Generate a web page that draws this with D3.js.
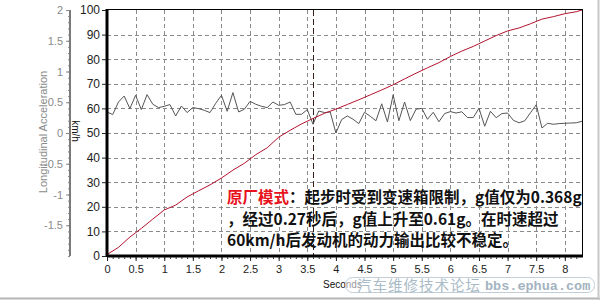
<!DOCTYPE html>
<html>
<head>
<meta charset="utf-8">
<script src="https://cdn.jsdelivr.net/npm/d3@7"></script>
<style>
  html, body { margin: 0; padding: 0; background: #fff; }
  svg { display: block; }
</style>
</head>
<body>
<svg id="chart" width="600" height="300"></svg>
<script>
// acceleration (g), one sample every 0.1 s from 0 to 8.3 s
const accelValues = [
  0.342, 0.300, 0.504, 0.601, 0.397, 0.613, 0.381, 0.624, 0.467, 0.413,
  0.434, 0.462, 0.277, 0.439, 0.332, 0.413, 0.397, 0.369, 0.332, 0.483,
  0.613, 0.353, 0.657, 0.342, 0.386, 0.515, 0.467, 0.434, 0.413, 0.504,
  0.450, 0.462, 0.504, 0.304, 0.304, 0.381, 0.142, 0.358, 0.332, 0.342,
  0.001, 0.218, 0.277, 0.223, 0.153, 0.337, 0.272, 0.199, 0.475, 0.179,
  0.621, 0.199, 0.504, 0.202, 0.386, 0.402, 0.223, 0.337, 0.183, 0.316,
  0.348, 0.325, 0.345, 0.251, 0.251, 0.402, 0.110, 0.353, 0.248, 0.316,
  0.325, 0.207, 0.166, 0.199, 0.329, 0.459, 0.082, 0.158, 0.142, 0.153,
  0.158, 0.162, 0.166, 0.191
];
const accelTimes = d3.range(accelValues.length).map((i) => i / 10);

// speed (km/h)
const speedTimes = [
  0, 0.2, 0.4, 0.6, 0.8, 1.0, 1.2, 1.4, 1.6, 1.8, 2.0, 2.2, 2.4, 2.6, 2.8,
  3.0, 3.2, 3.4, 3.6, 3.8, 4.0, 4.2, 4.4, 4.6, 4.8, 5.0, 5.2, 5.4, 5.6, 5.8,
  6.0, 6.2, 6.4, 6.6, 6.8, 7.0, 7.2, 7.4, 7.6, 7.8, 8.0, 8.2, 8.3
];
const speedValues = [
  0.6, 3.5, 7.7, 11.2, 15.0, 18.7, 20.7, 24.0, 26.5, 28.9, 31.7, 34.9, 37.7,
  41.2, 44.0, 48.3, 51.1, 53.7, 55.9, 58.0, 59.7, 61.6, 63.5, 65.5, 67.5,
  69.6, 72.0, 74.3, 76.5, 78.6, 81.1, 83.3, 85.2, 87.4, 89.6, 91.5, 92.7,
  94.4, 96.3, 97.3, 98.5, 99.3, 100
];

const timeTicks = [0, 0.5, 1, 1.5, 2, 2.5, 3, 3.5, 4, 4.5, 5, 5.5, 6, 6.5, 7, 7.5, 8];
const speedTicks = [0, 10, 20, 30, 40, 50, 60, 70, 80, 90, 100];
const accelTicks = [-1.5, -1, -0.5, 0, 0.5, 1, 1.5, 2];
const markerTime = 3.6;

const noteLines = [
  [{ t: "原厂模式", red: true }, { t: "：起步时受到变速箱限制，g值仅为0.368g" }],
  [{ t: "，经过0.27秒后，g值上升至0.61g。在时速超过" }],
  [{ t: "60km/h后发动机的动力输出比较不稳定。" }],
];

const svg = d3.select("#chart");
const pLeft = 107, pRight = 582, pTop = 10, pBottom = 256;

const x = d3.scaleLinear().domain([0, 8.3]).range([pLeft, pRight]);
const ySpeed = d3.scaleLinear().domain([0, 100]).range([pBottom, pTop]);
const yAccel = d3.scaleLinear().domain([-2, 2]).range([pBottom, pTop]);

const sans = "'Liberation Sans', Arial, sans-serif";

// grid
const grid = svg.append("g").attr("stroke", "#8a8a8a").attr("stroke-dasharray", "4,3").attr("shape-rendering", "crispEdges");
grid.selectAll("line.v")
  .data(timeTicks.filter((d) => d > 0))
  .join("line")
  .attr("x1", (d) => Math.round(x(d)) + 0.5).attr("x2", (d) => Math.round(x(d)) + 0.5)
  .attr("y1", pTop).attr("y2", pBottom);
grid.selectAll("line.h")
  .data(speedTicks.filter((d) => d > 0 && d < 100))
  .join("line")
  .attr("x1", pLeft).attr("x2", pRight)
  .attr("y1", (d) => Math.round(ySpeed(d)) + 0.5).attr("y2", (d) => Math.round(ySpeed(d)) + 0.5);

// marker line
svg.append("line")
  .attr("x1", Math.round(x(markerTime)) + 0.5).attr("x2", Math.round(x(markerTime)) + 0.5)
  .attr("y1", pTop).attr("y2", pBottom)
  .attr("stroke", "#3a1f1f").attr("stroke-dasharray", "6,3");

// annotation text
const note = svg.append("text")
  .attr("font-family", "'Noto Sans CJK SC', sans-serif")
  .attr("font-weight", "bold")
  .attr("font-size", 15.5);
noteLines.forEach((parts, i) => {
  const line = note.append("tspan").attr("x", 227).attr("y", 203 + i * 21.5);
  parts.forEach((p, j) => {
    const s = j === 0 ? line : note.append("tspan");
    s.text(p.t).attr("fill", p.red ? "#e8121c" : "#111");
  });
});

// series
svg.append("path")
  .datum(accelValues.map((v, i) => [accelTimes[i], v]))
  .attr("fill", "none").attr("stroke", "#555").attr("stroke-width", 1)
  .attr("d", d3.line().x((d) => x(d[0])).y((d) => yAccel(d[1])));

svg.append("path")
  .datum(speedValues.map((v, i) => [speedTimes[i], v]))
  .attr("fill", "none").attr("stroke", "#b3122f").attr("stroke-width", 1)
  .attr("d", d3.line().x((d) => x(d[0])).y((d) => ySpeed(d[1])));

// frame
svg.append("rect")
  .attr("x", pLeft + 0.5).attr("y", pTop - 0.5).attr("width", pRight - pLeft).attr("height", pBottom - pTop)
  .attr("fill", "none").attr("stroke", "#000");
svg.append("line").attr("x1", pLeft).attr("x2", pLeft).attr("y1", pTop - 1).attr("y2", pBottom + 1)
  .attr("stroke", "#000").attr("stroke-width", 3);
svg.append("line").attr("x1", pLeft).attr("x2", pRight + 1).attr("y1", pBottom).attr("y2", pBottom)
  .attr("stroke", "#000").attr("stroke-width", 3);

function styleAxis(g, color, size) {
  g.select(".domain").remove();
  g.selectAll("line").attr("stroke", color);
  g.selectAll("text").attr("fill", color).attr("font-family", sans).attr("font-size", size);
}

// speed axis
svg.append("g")
  .attr("transform", `translate(${pLeft - 1},0)`)
  .call(d3.axisLeft(ySpeed).tickValues(speedTicks).tickSize(4).tickPadding(2))
  .call((g) => styleAxis(g, "#222", 12));

// time axis
svg.append("g")
  .attr("transform", `translate(0,${pBottom + 1})`)
  .call(d3.axisBottom(x).tickValues(d3.range(0, 83).map((i) => i / 10)).tickSize(2).tickFormat(""))
  .call((g) => styleAxis(g, "#333", 11));
svg.append("g")
  .attr("transform", `translate(0,${pBottom + 1})`)
  .call(d3.axisBottom(x).tickValues(timeTicks).tickSize(4).tickPadding(4).tickFormat((d) => String(d)))
  .call((g) => styleAxis(g, "#222", 11));

svg.append("text")
  .attr("x", 323).attr("y", 288)
  .attr("font-family", sans).attr("font-size", 10).attr("fill", "#111")
  .text("Seconds");

// acceleration axis
const accelX = 70;
svg.append("g")
  .attr("transform", `translate(${accelX},0)`)
  .call(d3.axisLeft(yAccel).tickValues(d3.range(-20, 21).map((i) => i / 10)).tickSize(2).tickFormat(""))
  .call((g) => styleAxis(g, "#8a8a8a", 11));
svg.append("g")
  .attr("transform", `translate(${accelX},0)`)
  .call(d3.axisLeft(yAccel).tickValues(accelTicks).tickSize(4).tickPadding(3).tickFormat((d) => String(d)))
  .call((g) => styleAxis(g, "#8a8a8a", 11));
svg.append("line")
  .attr("x1", accelX).attr("x2", accelX).attr("y1", pTop).attr("y2", pBottom)
  .attr("stroke", "#7a7a7a").attr("stroke-width", 2);

svg.append("text")
  .attr("transform", "translate(47,132) rotate(-90)")
  .attr("text-anchor", "middle")
  .attr("font-family", sans).attr("font-size", 11).attr("fill", "#8a8a8a")
  .text("Longitudinal Acceleration");

svg.append("text")
  .attr("transform", "translate(72,131) rotate(90)")
  .attr("text-anchor", "middle")
  .attr("font-family", sans).attr("font-size", 10).attr("fill", "#111")
  .text("km/h");

// watermark
const wm = svg.append("g");
wm.append("rect")
  .attr("x", 345.5).attr("y", 277.5).attr("width", 249).attr("height", 15).attr("rx", 7)
  .attr("fill", "rgba(255,255,255,0.55)").attr("stroke", "#c3ced6");
wm.append("text")
  .attr("x", 357).attr("y", 291)
  .attr("font-family", "'Noto Sans CJK SC', sans-serif").attr("font-size", 14.5)
  .attr("fill", "#a9bbc7").attr("letter-spacing", 1)
  .text("汽车维修技术论坛");
wm.append("text")
  .attr("x", 485).attr("y", 290)
  .attr("font-family", "'Liberation Mono', monospace").attr("font-weight", "bold").attr("font-size", 13.5)
  .attr("fill", "#a3b3bf")
  .text("bbs.ephua.com");

// page border
svg.append("line").attr("x1", 0).attr("x2", 600).attr("y1", 298.5).attr("y2", 298.5).attr("stroke", "#b5b5b5").attr("stroke-width", 2);
svg.append("line").attr("x1", 598.5).attr("x2", 598.5).attr("y1", 0).attr("y2", 300).attr("stroke", "#c8c8c8").attr("stroke-width", 2);
</script>
</body>
</html>
